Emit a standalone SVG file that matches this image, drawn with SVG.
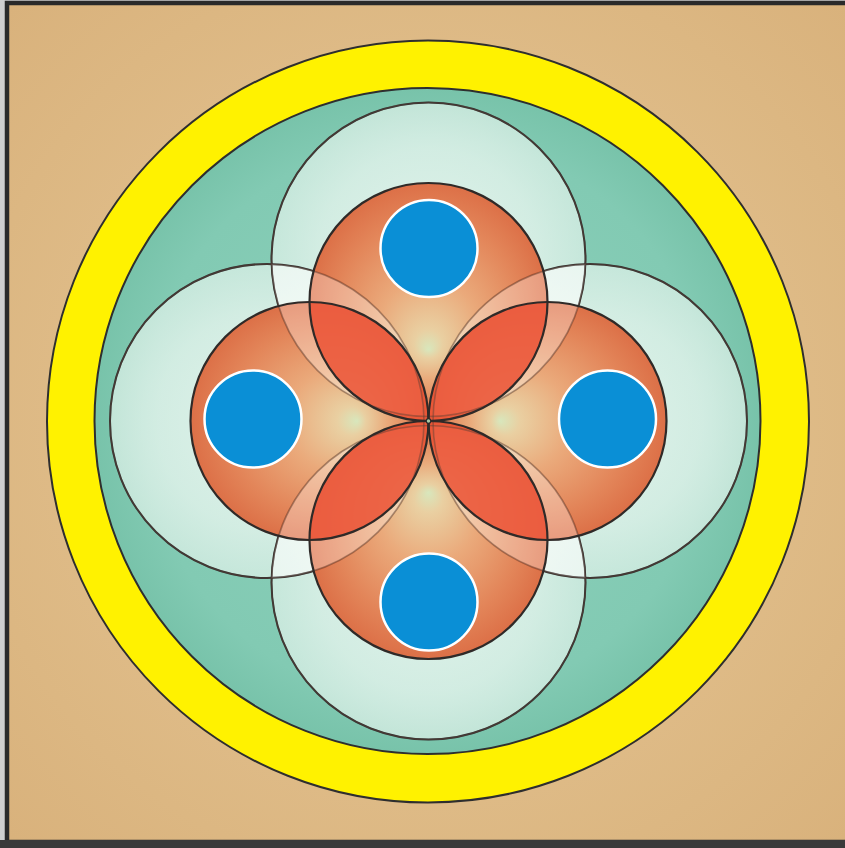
<svg xmlns="http://www.w3.org/2000/svg" width="845" height="848" viewBox="0 0 845 848">
  <defs>
    <radialGradient id="bg" cx="0.5" cy="0.5" r="0.7">
      <stop offset="0" stop-color="#e7c998"/>
      <stop offset="1" stop-color="#d9b27c"/>
    </radialGradient>
    <radialGradient id="teal" cx="0.5" cy="0.5" r="0.5">
      <stop offset="0" stop-color="#8ed1bc"/>
      <stop offset="0.85" stop-color="#82cab3"/>
      <stop offset="1" stop-color="#78c3aa"/>
    </radialGradient>
    <radialGradient id="wg" cx="0.5" cy="0.5" r="0.5">
      <stop offset="0" stop-color="#fbfefb" stop-opacity="0.78"/>
      <stop offset="0.7" stop-color="#f4fbf6" stop-opacity="0.7"/>
      <stop offset="1" stop-color="#eef8f2" stop-opacity="0.62"/>
    </radialGradient>
    <radialGradient id="rT" cx="0.5" cy="0.5" r="0.5" fx="0.5" fy="0.7">
      <stop offset="0" stop-color="#d8e6b8"/>
      <stop offset="0.12" stop-color="#ebcc9a"/>
      <stop offset="0.42" stop-color="#eca26f"/>
      <stop offset="0.78" stop-color="#e47a4a"/>
      <stop offset="1" stop-color="#dd6236"/>
    </radialGradient>
    <radialGradient id="rB" cx="0.5" cy="0.5" r="0.5" fx="0.5" fy="0.3">
      <stop offset="0" stop-color="#d8e6b8"/>
      <stop offset="0.12" stop-color="#ebcc9a"/>
      <stop offset="0.42" stop-color="#eca26f"/>
      <stop offset="0.78" stop-color="#e47a4a"/>
      <stop offset="1" stop-color="#dd6236"/>
    </radialGradient>
    <radialGradient id="rL" cx="0.5" cy="0.5" r="0.5" fx="0.7" fy="0.5">
      <stop offset="0" stop-color="#d8e6b8"/>
      <stop offset="0.12" stop-color="#ebcc9a"/>
      <stop offset="0.42" stop-color="#eca26f"/>
      <stop offset="0.78" stop-color="#e47a4a"/>
      <stop offset="1" stop-color="#dd6236"/>
    </radialGradient>
    <radialGradient id="rR" cx="0.5" cy="0.5" r="0.5" fx="0.3" fy="0.5">
      <stop offset="0" stop-color="#d8e6b8"/>
      <stop offset="0.12" stop-color="#ebcc9a"/>
      <stop offset="0.42" stop-color="#eca26f"/>
      <stop offset="0.78" stop-color="#e47a4a"/>
      <stop offset="1" stop-color="#dd6236"/>
    </radialGradient>
    <style>
      .ring { stroke: #2e2e2e; stroke-width: 2; }
      .wfill { fill: url(#wg); stroke: none; }
      .wline { fill: none; stroke: #333333; stroke-width: 2; }
      .wfaint { fill: none; stroke: #5a4036; stroke-width: 1.6; stroke-opacity: 0.45; }
      .rfill { stroke: none; fill-opacity: 0.9; }
      .rline { fill: none; stroke: #2f2a28; stroke-width: 2.2; }
      .wlens { fill: #ffffff; fill-opacity: 0.3; stroke: none; }
      .rlens { fill: #eb5437; fill-opacity: 0.86; stroke: none; }
      .blue { fill: #0a8fd6; stroke: #ffffff; stroke-width: 2.5; }
    </style>
  </defs>

  <g id="background">
    <rect x="0" y="0" width="845" height="848" fill="#cfcfcf"/>
    <rect x="7" y="3" width="845" height="839" fill="url(#bg)" stroke="#2a2a2a" stroke-width="4.5"/>
    <rect x="0" y="840" width="845" height="8" fill="#3a3a3a"/>
  </g>

  <g id="yellow-ring">
    <circle class="ring" cx="428" cy="421.5" r="381" fill="#fff200"/>
  </g>

  <g id="teal-disc">
    <circle class="ring" cx="427.5" cy="421" r="333" fill="url(#teal)"/>
  </g>

  <g id="white-circles">
    <circle class="wfill" cx="428.5" cy="259.5" r="157"/>
    <circle class="wfill" cx="267" cy="421" r="157"/>
    <circle class="wfill" cx="590" cy="421" r="157"/>
    <circle class="wfill" cx="428.5" cy="582.5" r="157"/>
    <circle class="wline" cx="428.5" cy="259.5" r="157"/>
    <circle class="wline" cx="267" cy="421" r="157"/>
    <circle class="wline" cx="590" cy="421" r="157"/>
    <circle class="wline" cx="428.5" cy="582.5" r="157"/>
  </g>

  <g id="red-circles">
    <circle class="rfill" cx="428.5" cy="302" r="119" fill="url(#rT)"/>
    <circle class="rfill" cx="309.5" cy="421" r="119" fill="url(#rL)"/>
    <circle class="rfill" cx="547.5" cy="421" r="119" fill="url(#rR)"/>
    <circle class="rfill" cx="428.5" cy="540" r="119" fill="url(#rB)"/>
  </g>

  <g id="white-overlaps">
    <path class="wlens" d="M 271.6 264.1 A 157 157 0 0 1 423.9 416.4 A 157 157 0 0 1 271.6 264.1 Z"/>
    <path class="wlens" d="M 433.1 416.4 A 157 157 0 0 1 585.4 264.1 A 157 157 0 0 1 433.1 416.4 Z"/>
    <path class="wlens" d="M 271.6 577.9 A 157 157 0 0 1 423.9 425.6 A 157 157 0 0 1 271.6 577.9 Z"/>
    <path class="wlens" d="M 433.1 425.6 A 157 157 0 0 1 585.4 577.9 A 157 157 0 0 1 433.1 425.6 Z"/>
  </g>

  <g id="red-overlaps">
    <path class="rlens" d="M 309.5 302 A 119 119 0 0 1 428.5 421 A 119 119 0 0 1 309.5 302 Z"/>
    <path class="rlens" d="M 428.5 421 A 119 119 0 0 1 547.5 302 A 119 119 0 0 1 428.5 421 Z"/>
    <path class="rlens" d="M 309.5 540 A 119 119 0 0 1 428.5 421 A 119 119 0 0 1 309.5 540 Z"/>
    <path class="rlens" d="M 428.5 421 A 119 119 0 0 1 547.5 540 A 119 119 0 0 1 428.5 421 Z"/>
  </g>

  <g id="white-outlines-through-red">
    <circle class="wfaint" cx="428.5" cy="259.5" r="157"/>
    <circle class="wfaint" cx="267" cy="421" r="157"/>
    <circle class="wfaint" cx="590" cy="421" r="157"/>
    <circle class="wfaint" cx="428.5" cy="582.5" r="157"/>
  </g>

  <g id="red-outlines">
    <circle class="rline" cx="428.5" cy="302" r="119"/>
    <circle class="rline" cx="309.5" cy="421" r="119"/>
    <circle class="rline" cx="547.5" cy="421" r="119"/>
    <circle class="rline" cx="428.5" cy="540" r="119"/>
  </g>

  <g id="centre-point">
    <circle cx="428.5" cy="421" r="2.3" fill="#a8c8a4" stroke="#2f2a28" stroke-width="1.2"/>
  </g>

  <g id="blue-circles">
    <circle id="blue-top" class="blue" cx="429" cy="248.5" r="48.5"/>
    <circle id="blue-left" class="blue" cx="253" cy="419" r="48.5"/>
    <circle id="blue-right" class="blue" cx="607.5" cy="419" r="48.5"/>
    <circle id="blue-bottom" class="blue" cx="429" cy="602" r="48.5"/>
  </g>
</svg>
